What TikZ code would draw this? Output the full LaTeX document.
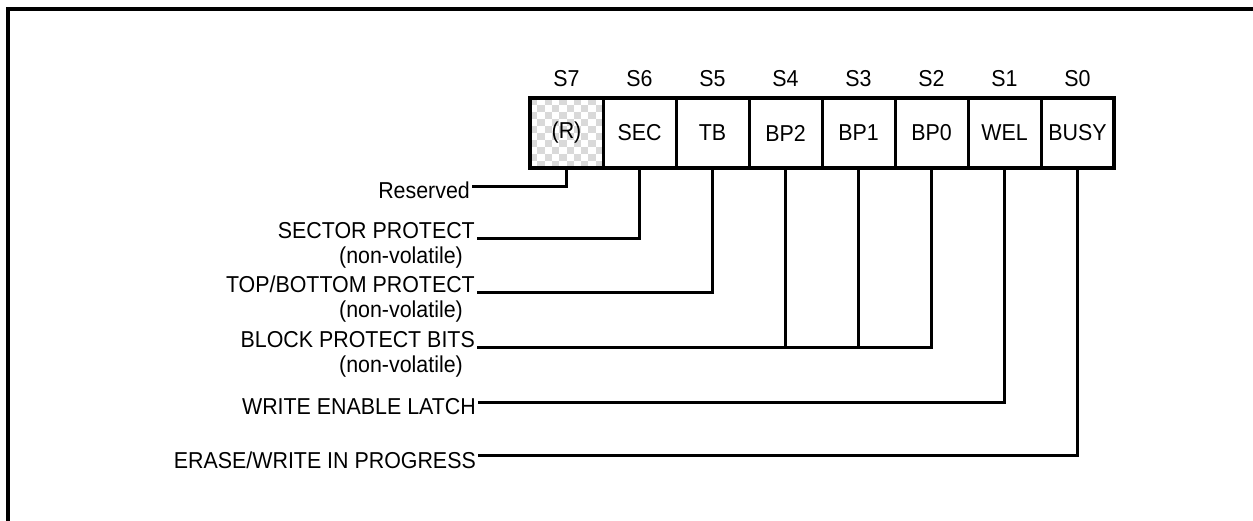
\documentclass[tikz,border=0pt]{standalone}
\usepackage{fontspec}
\setmainfont{Liberation Sans}[FakeStretch=0.93]
\usetikzlibrary{positioning,calc}

\tikzset{
  cell/.style={draw, line width=3pt, minimum width=73pt, minimum height=70pt,
    inner sep=0pt, outer sep=0pt},
  plain/.style={},
  rsvd/.style={path picture={
    \foreach \i in {0,...,9}{
      \foreach \j in {0,...,9}{
        \pgfmathtruncatemacro\chk{mod(\i+\j,2)}
        \ifnum\chk=0
          \fill[gray!30] ($(path picture bounding box.north west)+(\i*7.3,\j*7)$) rectangle ++(7.3,7);
        \fi
      }
    }
  }},
  bitname/.style={anchor=base, inner sep=0pt},
  desc/.style={anchor=base east, inner sep=2pt},
  nvol/.style={anchor=base east, inner sep=0pt},
  wire/.style={line width=3pt},
}

\begin{document}
\begin{tikzpicture}[x=1pt, y=-1pt, font=\fontsize{23}{27}\selectfont]
  \useasboundingbox (0,0) rectangle (1253,521);
  \draw[line width=4pt] (1253,9) -- (8,9) -- (8,521);

  % status register cells
  \foreach \i/\b/\name/\sty in {0/7/{(R)}/rsvd, 1/6/SEC/plain, 2/5/TB/plain, 3/4/BP2/plain,
                                4/3/BP1/plain, 5/2/BP0/plain, 6/1/WEL/plain, 7/0/BUSY/plain}{
    \node[cell, \sty] (s\b) at (566.5+73*\i,133) {\name};
    \node[bitname] (b\b) at (566.5+73*\i,87) {S\b};
  }
  \draw[line width=4pt] (s7.south west) rectangle (s0.north east);

  % bit descriptions
  \node[desc] (lres) at (472,199) {Reserved};
  \node[desc] (lsec) at (477,239) {SECTOR PROTECT};
  \node[nvol] (nsec) at (463,264) {(non-volatile)};
  \node[desc] (ltb) at (477,293) {TOP/BOTTOM PROTECT};
  \node[nvol] (ntb) at (463,317) {(non-volatile)};
  \node[desc] (lbp) at (477,347) {BLOCK PROTECT BITS};
  \node[nvol] (nbp) at (463,372) {(non-volatile)};
  \node[desc] (lwel) at (478,414) {WRITE ENABLE LATCH};
  \node[desc] (lbusy) at (478,468) {ERASE/WRITE IN PROGRESS};

  \draw[wire] (s7.south) |- ([yshift=4pt]lres.east);
  \draw[wire] (s6.south) |- (lsec.base east);
  \draw[wire] (s5.south) |- (ltb.base east);
  \draw[wire] (s2.south) |- (lbp.base east);
  \draw[wire] (s4.south) -- (s4.south |- lbp.base east);
  \draw[wire] (s3.south) -- (s3.south |- lbp.base east);
  \draw[wire] (s1.south) |- ([yshift=4pt]lwel.east);
  \draw[wire] (s0.south) |- ([yshift=4pt]lbusy.east);
\end{tikzpicture}
\end{document}
